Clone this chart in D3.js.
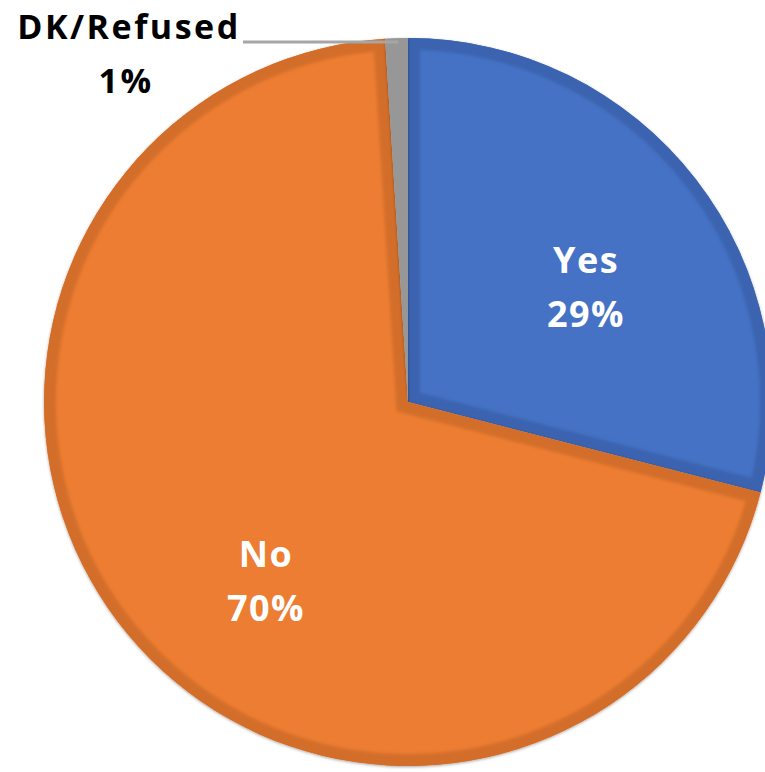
<!DOCTYPE html>
<html>
<head>
<meta charset="utf-8">
<script src="https://cdn.jsdelivr.net/npm/d3@7"></script>
<style>
  html, body { margin: 0; padding: 0; background: #fff; }
  svg { display: block; }
</style>
</head>
<body>
<svg id="chart" width="765" height="772"></svg>
<script>
const categories = ["Yes", "No", "DK/Refused"];
const values = [29, 70, 1];
const labels = ["29%", "70%", "1%"];
const fills = ["#4472C4", "#ED7D31", "#A5A5A5"];
const borders = ["#3A64B0", "#D36E2A", "#979797"];

const svg = d3.select("#chart");
const cx = 408, cy = 402, r = 364;

const defs = svg.append("defs");
const f = defs.append("filter").attr("id", "shadow").attr("x", "-10%").attr("y", "-10%").attr("width", "120%").attr("height", "120%");
f.append("feDropShadow").attr("dx", 0).attr("dy", 1).attr("stdDeviation", 1.5).attr("flood-color", "#000").attr("flood-opacity", 0.35);
const blur = defs.append("filter").attr("id", "soft");
blur.append("feGaussianBlur").attr("stdDeviation", 1.5);

const pie = d3.pie().sort(null).value(d => d)(values);
const arc = d3.arc().innerRadius(0).outerRadius(r);

const g = svg.append("g").attr("transform", `translate(${cx},${cy})`);

pie.forEach((p, i) => {
  defs.append("clipPath").attr("id", "clip" + i)
    .append("path").attr("d", arc(p));
});

const slices = g.selectAll("g.slice").data(pie).join("g").attr("class", "slice");
slices.append("path")
  .attr("d", arc)
  .attr("fill", (d, i) => fills[i])
  .attr("filter", "url(#shadow)");
slices.append("g")
  .attr("clip-path", (d, i) => `url(#clip${i})`)
  .append("path")
  .attr("d", arc)
  .attr("fill", "none")
  .attr("stroke", (d, i) => borders[i])
  .attr("stroke-width", 24)
  .attr("stroke-linejoin", "miter")
  .attr("filter", "url(#soft)");

// Inner labels
const labelPos = [[586, 273], [266, 567]];
[0, 1].forEach(i => {
  const t = svg.append("text")
    .attr("text-anchor", "middle")
    .attr("font-family", "Open Sans, sans-serif")
    .attr("font-weight", "bold")
    .attr("font-size", 36)
    .attr("letter-spacing", 1.5)
    .attr("fill", "#fff");
  t.append("tspan").attr("x", labelPos[i][0]).attr("y", labelPos[i][1]).text(categories[i]);
  t.append("tspan").attr("x", labelPos[i][0]).attr("y", labelPos[i][1] + 54).text(labels[i]);
});

// Outside label for DK/Refused with leader line
const dk = pie[2];
const mid = (dk.startAngle + dk.endAngle) / 2;
const ex = cx + Math.sin(mid) * (r - 2), ey = cy - Math.cos(mid) * (r - 2);
svg.append("polyline")
  .attr("points", `243,42 ${ex},42 ${ex},${ey}`)
  .attr("fill", "none")
  .attr("stroke", "#A6A6A6")
  .attr("stroke-width", 3);

const dt = svg.append("text")
  .attr("text-anchor", "middle")
  .attr("font-family", "Open Sans, sans-serif")
  .attr("font-weight", "bold")
  .attr("font-size", 34)
  .attr("letter-spacing", 2.5)
  .attr("fill", "#000");
dt.append("tspan").attr("x", 129).attr("y", 39).text(categories[2]);
dt.append("tspan").attr("x", 126).attr("y", 93).text(labels[2]);
</script>
</body>
</html>
